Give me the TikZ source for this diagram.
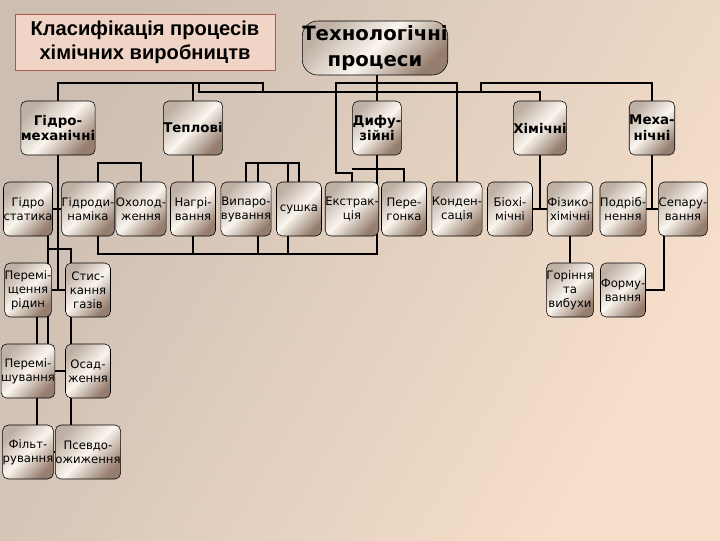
\documentclass[tikz,border=0pt]{standalone}
\usepackage{fontspec}
\setmainfont{DejaVu Sans}
\newfontfamily\titlefont{Liberation Sans}
\usepackage{tikz}
\usetikzlibrary{calc}
\usepackage{xcolor}
\definecolor{bgleft}{RGB}{204,190,178}
\definecolor{bgright}{RGB}{247,224,203}
\definecolor{boxdark}{RGB}{150,126,110}
\definecolor{boxlight}{RGB}{250,245,238}
\definecolor{boxtop}{RGB}{190,176,164}
\definecolor{titlefill}{RGB}{240,212,198}
\definecolor{titleedge}{RGB}{170,90,75}
\pgfdeclarelayer{back}
\pgfdeclarelayer{lines}
\pgfsetlayers{back,lines,main}

\begin{document}
\begin{tikzpicture}[x=0.025cm, y=-0.025cm,
    box/.style={draw=black, rounded corners=4pt, minimum width=1.125cm, minimum height=1.35cm,
      inner sep=0pt, align=center, font=\fontsize{8.3}{10}\selectfont,
      top color=boxtop, bottom color=boxdark, middle color=boxlight, shading angle=45},
    group/.style={box, font=\fontsize{9.5}{11.3}\selectfont\bfseries},
    link/.style={line width=1.3pt}]
    \useasboundingbox (0,0) rectangle (720,540);
    \begin{pgfonlayer}{back}
      \fill[left color=bgleft, right color=bgright, shading angle=60] (0,0) rectangle (720,540);
    \end{pgfonlayer}

    \node[draw=titleedge, fill=titlefill, minimum width=6.5cm, minimum height=1.4cm, align=center,
      font=\titlefont\bfseries\fontsize{14.3}{17}\selectfont] (title) at (145,42)
      {Класифікація процесів\\хімічних виробництв};
    \node[box, rounded corners=11pt, minimum width=3.5cm, font=\bfseries\fontsize{14}{18}\selectfont]
      (root) at (375,48) {Технологічні\\процеси};

    \node[group] (hm) at (58,128) {Гідро-\\механічні};
    \node[group] (tp) at (193,128) {Теплові};
    \node[group] (dy) at (377,128) {Дифу-\\зійні};
    \node[group] (hi) at (540,128) {Хімічні};
    \node[group] (me) at (652,128) {Меха-\\нічні};

    \node[box] (gs) at (28,209) {Гідро\\статика};
    \node[box] (gd) at (88,209) {Гідроди-\\наміка};
    \node[box] (oh) at (141,209) {Охолод-\\ження};
    \node[box] (ng) at (193,209) {Нагрі-\\вання};
    \node[box] (vp) at (246,209) {Випаро-\\вування};
    \node[box] (su) at (299,209) {сушка};
    \node[box] (ek) at (352,209) {Екстрак-\\ція};
    \node[box] (pg) at (404,209) {Пере-\\гонка};
    \node[box] (kd) at (457,209) {Конден-\\сація};
    \node[box] (bx) at (510,209) {Біохі-\\мічні};
    \node[box] (fx) at (570,209) {Фізико-\\хімічні};
    \node[box] (pd) at (623,209) {Подріб-\\нення};
    \node[box] (sp) at (683,209) {Сепару-\\вання};

    \node[box] (pr) at (28,290) {Перемі-\\щення\\рідин};
    \node[box] (sg) at (88,290) {Стис-\\кання\\газів};
    \node[box] (gr) at (570,290) {Горіння\\та\\вибухи};
    \node[box] (fm) at (623,290) {Форму-\\вання};
    \node[box] (pm) at (28,371) {Перемі-\\шування};
    \node[box] (os) at (88,371) {Осад-\\ження};
    \node[box] (fl) at (28,452) {Фільт-\\рування};
    \node[box] (ps) at (88,452) {Псевдо-\\ожиження};

    \begin{pgfonlayer}{lines}
      % upper buses
      \draw[link] (hm.north) |- (263,83) -- (263,92);
      \draw[link] (tp.north) -- (tp.north |- 0,83);
      \draw[link] (199,83) -- (199,92) -| (hi.north);
      \draw[link] (root.south -| dy.north) -- (dy.north);
      \draw[link] (481,92) -- (481,83) -| (me.north);
      \draw[link] (ek.north) |- (336,173) -- (336,83) -| (kd.north);
      \draw[link] (ek.north |- 0,169) -| (pg.north);
      % hydromechanics column
      \draw[link] (hm.south) -- (hm.south |- pr.east);
      \draw[link] (gs) -- (gd);
      \draw[link] (pr) -- (sg);
      \draw[link] (pm) -- (os);
      \draw[link] (fl) -- (ps);
      \draw[link] (gs.south -| 48,0) -- (48,371);
      \draw[link] (48,249) -| (sg.north -| 71,0);
      \draw[link] (pr.south -| 37,0) -- (pm.north -| 37,0);
      \draw[link] (pm.south -| 37,0) -- (fl.north -| 37,0);
      \draw[link] (sg.south -| 71,0) -- (os.north -| 71,0);
      \draw[link] (os.south -| 71,0) -- (ps.north -| 71,0);
      % second row
      \draw[link] (gd.north -| 98,0) |- (141,163) -- (oh.north);
      \draw[link] (tp) -- (ng);
      \draw[link] (vp.north) |- (299,163) -- (su.north);
      \draw[link] (vp.north -| 258,0) -- (258,163);
      \draw[link] (su.north -| 288,0) -- (288,163);
      \draw[link] (gd.south -| 98,0) |- (377,254) -- (dy.south);
      \draw[link] (ng.south) -- (ng.south |- 0,254);
      \draw[link] (vp.south -| 258,0) -- (258,254);
      \draw[link] (su.south -| 288,0) -- (288,254);
      \draw[link] (hi.south) -- (hi.south |- bx.east);
      \draw[link] (bx) -- (fx);
      \draw[link] (me.south) -- (me.south |- pd.east);
      \draw[link] (pd) -- (sp);
      \draw[link] (fx) -- (gr);
      \draw[link] (sp.south -| 664,0) |- (fm.east);
    \end{pgfonlayer}
  \end{tikzpicture}
\end{document}
